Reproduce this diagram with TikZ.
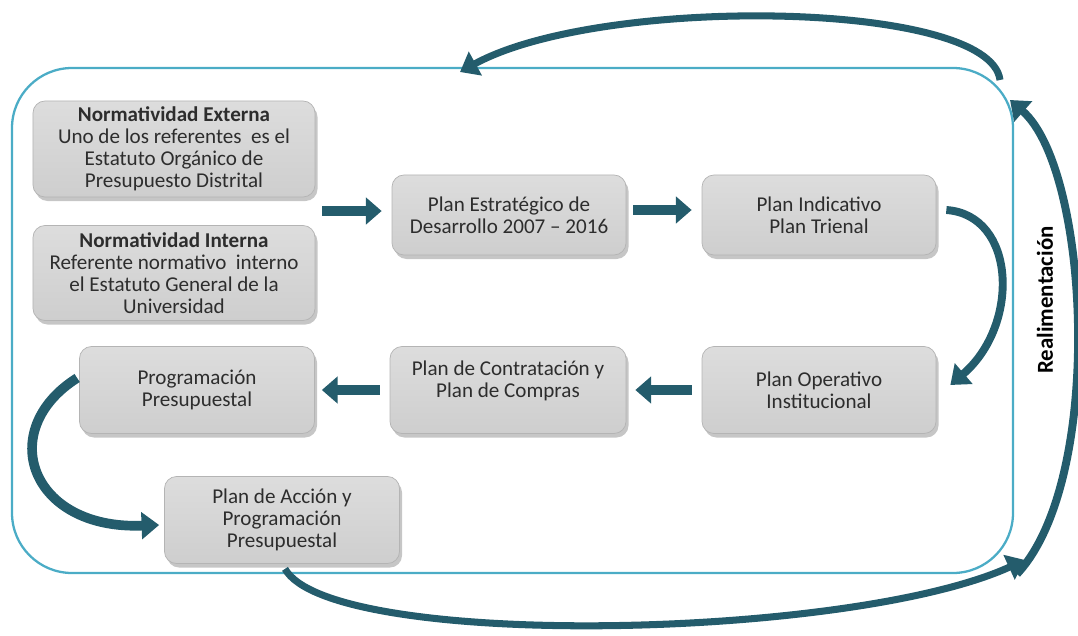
\documentclass[tikz,border=0pt]{standalone}
\usepackage{fontspec}
\setmainfont{Carlito}
\usepackage{tikz}
\usetikzlibrary{arrows.meta, shadows, calc}
\definecolor{gris}{RGB}{206,206,206}
\definecolor{borde}{RGB}{180,180,180}
\definecolor{texto}{RGB}{45,45,45}
\definecolor{petroleo}{RGB}{36,92,108}
\definecolor{celeste}{RGB}{75,172,198}

\begin{document}
\begin{tikzpicture}[x=0.2mm,y=-0.2mm,
	bloque/.style={draw=borde, top color=gris!70, bottom color=gris, rounded corners=2.4mm, align=center, text=texto, font=\fontsize{12}{12.5}\selectfont, drop shadow={shadow xshift=0.5mm, shadow yshift=-0.8mm, opacity=0.45}},
	recta/.style={draw=petroleo, line width=6pt, -{Triangle[width=15pt,length=9pt]}},
	curva/.style={draw=petroleo, line width=4.5pt, -{Triangle[width=15pt,length=10pt]}}]
				\useasboundingbox (0,0) rectangle (1078,636);
				\draw[celeste, line width=1.3pt, rounded corners=12mm] (12,68) rectangle (1013,573);
				\node[bloque, minimum width=56.4mm, minimum height=19.2mm] (ext) at (174,149) {\textbf{Normatividad Externa}\\Uno de los referentes\ \ es el\\Estatuto Orgánico de\\Presupuesto Distrital};
				\node[bloque, minimum width=56.4mm, minimum height=19mm] (int) at (174,273) {\textbf{Normatividad Interna}\\Referente normativo\ \ interno\\el Estatuto General de la\\Universidad};
				\node[bloque, minimum width=46.8mm, minimum height=16mm] (estrat) at (509,215) {Plan Estratégico de\\Desarrollo 2007 -- 2016};
				\node[bloque, minimum width=46.8mm, minimum height=16mm] (indicativo) at (819,215) {Plan Indicativo\\Plan Trienal};
				\node[bloque, minimum width=46.8mm, minimum height=17.4mm] (operativo) at (819,390) {Plan Operativo\\Institucional};
				\node[bloque, minimum width=47.2mm, minimum height=17.4mm] (contratacion) at (508,390) {Plan de Contratación y\\Plan de Compras\\~};
				\node[bloque, minimum width=47mm, minimum height=17.4mm] (programacion) at (197,390) {Programación\\Presupuestal};
				\node[bloque, minimum width=47mm, minimum height=17.4mm] (accion) at (282,520) {Plan de Acción y\\Programación\\Presupuestal};
				\node[rotate=90, font=\bfseries\fontsize{13}{15}\selectfont] (realim) at (1045,300) {Realimentación};
				\coordinate (normas) at ($(ext.east)!0.5!(int.east)$);
				\coordinate (cierre) at (1025,560);
				\coordinate (arriba) at (1000,80);
				\coordinate (entrada) at (460,72);
				\draw[recta, shorten <=1.4mm, shorten >=2mm] (normas) -- (estrat.west |- normas);
				\draw[recta, shorten <=1.4mm, shorten >=2mm] ($(estrat.east)+(0,-5)$) -- ($(indicativo.west)+(0,-5)$);
				\draw[recta, shorten <=2mm, shorten >=1.8mm] (operativo.west) -- (contratacion.east);
				\draw[recta, shorten <=2mm, shorten >=1.4mm] (contratacion.west) -- (programacion.east);
				\draw[curva] ($(indicativo.east)+(10,-5)$) .. controls +(70,5) and +(70,-60) .. ($(operativo.east)+(14,-5)$);
				\draw[curva, line width=5.5pt] ($(programacion.west)+(-2,-12)$) .. controls (-5,430) and (30,530) .. ($(accion.west)+(-5,5)$);
				\draw[curva, line width=4pt] ($(accion.south)+(3,5)$) .. controls (330,650) and (850,640) .. (cierre);
				\draw[curva] ($(cierre)+(-8,14)$) .. controls (1105,480) and (1090,170) .. (1010,100);
				\draw[curva, line width=4pt] (arriba) .. controls (990,0) and (600,-5) .. (entrada);
			\end{tikzpicture}
\end{document}
